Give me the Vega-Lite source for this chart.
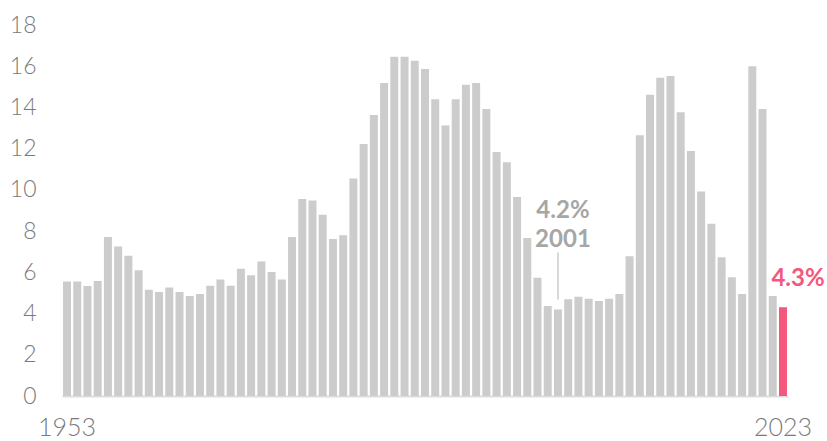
{
  "$schema": "https://vega.github.io/schema/vega-lite/v6.json",
  "width": 726,
  "height": 371,
  "autosize": {"type": "none"},
  "padding": {"left": 62, "top": 25, "right": 39, "bottom": 45},
  "background": "white",
  "config": {
    "view": {"stroke": null},
    "font": "Lato",
    "axis": {"grid": false, "ticks": false, "labelFont": "Lato", "labelColor": "#7a7a7a", "labelFontWeight": 300, "title": null}
  },
  "data": {
    "values": [
      {"year": 1953, "value": 5.55}, {"year": 1954, "value": 5.55}, {"year": 1955, "value": 5.34}, {"year": 1956, "value": 5.58},
      {"year": 1957, "value": 7.72}, {"year": 1958, "value": 7.25}, {"year": 1959, "value": 6.8}, {"year": 1960, "value": 6.1},
      {"year": 1961, "value": 5.15}, {"year": 1962, "value": 5.05}, {"year": 1963, "value": 5.26}, {"year": 1964, "value": 5.05},
      {"year": 1965, "value": 4.85}, {"year": 1966, "value": 4.95}, {"year": 1967, "value": 5.35}, {"year": 1968, "value": 5.65},
      {"year": 1969, "value": 5.35}, {"year": 1970, "value": 6.17}, {"year": 1971, "value": 5.86}, {"year": 1972, "value": 6.52},
      {"year": 1973, "value": 6.02}, {"year": 1974, "value": 5.65}, {"year": 1975, "value": 7.72}, {"year": 1976, "value": 9.56},
      {"year": 1977, "value": 9.48}, {"year": 1978, "value": 8.79}, {"year": 1979, "value": 7.62}, {"year": 1980, "value": 7.8},
      {"year": 1981, "value": 10.55}, {"year": 1982, "value": 12.23}, {"year": 1983, "value": 13.63}, {"year": 1984, "value": 15.19},
      {"year": 1985, "value": 16.46}, {"year": 1986, "value": 16.46}, {"year": 1987, "value": 16.26}, {"year": 1988, "value": 15.87},
      {"year": 1989, "value": 14.4}, {"year": 1990, "value": 13.12}, {"year": 1991, "value": 14.4}, {"year": 1992, "value": 15.1},
      {"year": 1993, "value": 15.19}, {"year": 1994, "value": 13.92}, {"year": 1995, "value": 11.84}, {"year": 1996, "value": 11.34},
      {"year": 1997, "value": 9.66}, {"year": 1998, "value": 7.66}, {"year": 1999, "value": 5.74}, {"year": 2000, "value": 4.37},
      {"year": 2001, "value": 4.2}, {"year": 2002, "value": 4.69}, {"year": 2003, "value": 4.82}, {"year": 2004, "value": 4.72},
      {"year": 2005, "value": 4.61}, {"year": 2006, "value": 4.72}, {"year": 2007, "value": 4.95}, {"year": 2008, "value": 6.78},
      {"year": 2009, "value": 12.65}, {"year": 2010, "value": 14.61}, {"year": 2011, "value": 15.44}, {"year": 2012, "value": 15.52},
      {"year": 2013, "value": 13.77}, {"year": 2014, "value": 11.89}, {"year": 2015, "value": 9.92}, {"year": 2016, "value": 8.36},
      {"year": 2017, "value": 6.73}, {"year": 2018, "value": 5.76}, {"year": 2019, "value": 4.95}, {"year": 2020, "value": 16.0},
      {"year": 2021, "value": 13.93}, {"year": 2022, "value": 4.85}, {"year": 2023, "value": 4.3}
    ]
  },
  "encoding": {
    "x": {
      "field": "year", "type": "ordinal",
      "scale": {"paddingInner": 0.22, "paddingOuter": 0.1},
      "axis": {"values": [1953, 2023], "labelAngle": 0, "labelFontSize": 25, "domainColor": "#dddddd", "domainWidth": 2, "labelPadding": 19, "labelBaseline": "top"}
    },
    "y": {
      "field": "value", "type": "quantitative",
      "scale": {"domain": [0, 18], "nice": false},
      "axis": {"values": [0, 2, 4, 6, 8, 10, 12, 14, 16, 18], "domain": false, "labelFontSize": 23, "labelPadding": 26}
    }
  },
  "layer": [
    {
      "mark": {"type": "bar"},
      "encoding": {
        "color": {
          "condition": {"test": "datum.year === 2023", "value": "#f4587c"},
          "value": "#cccccc"
        }
      }
    },
    {
      "transform": [{"filter": "datum.year === 2001"}],
      "mark": {"type": "rule", "color": "#cccccc", "strokeWidth": 1.5, "yOffset": -10, "y2Offset": -57},
      "encoding": {"y2": {"field": "value"}}
    },
    {
      "transform": [{"filter": "datum.year === 2001"}],
      "mark": {"type": "text", "align": "center", "baseline": "alphabetic", "dx": 5, "dy": -91, "lineHeight": 29, "fontSize": 24, "fontWeight": "bold", "color": "#a6a6a6"},
      "encoding": {"text": {"value": ["4.2%", "2001"]}}
    },
    {
      "transform": [{"filter": "datum.year === 2023"}],
      "mark": {"type": "text", "align": "center", "baseline": "alphabetic", "dx": 15, "dy": -21, "fontSize": 24, "fontWeight": "bold", "color": "#f4587c"},
      "encoding": {"text": {"value": "4.3%"}}
    }
  ]
}
